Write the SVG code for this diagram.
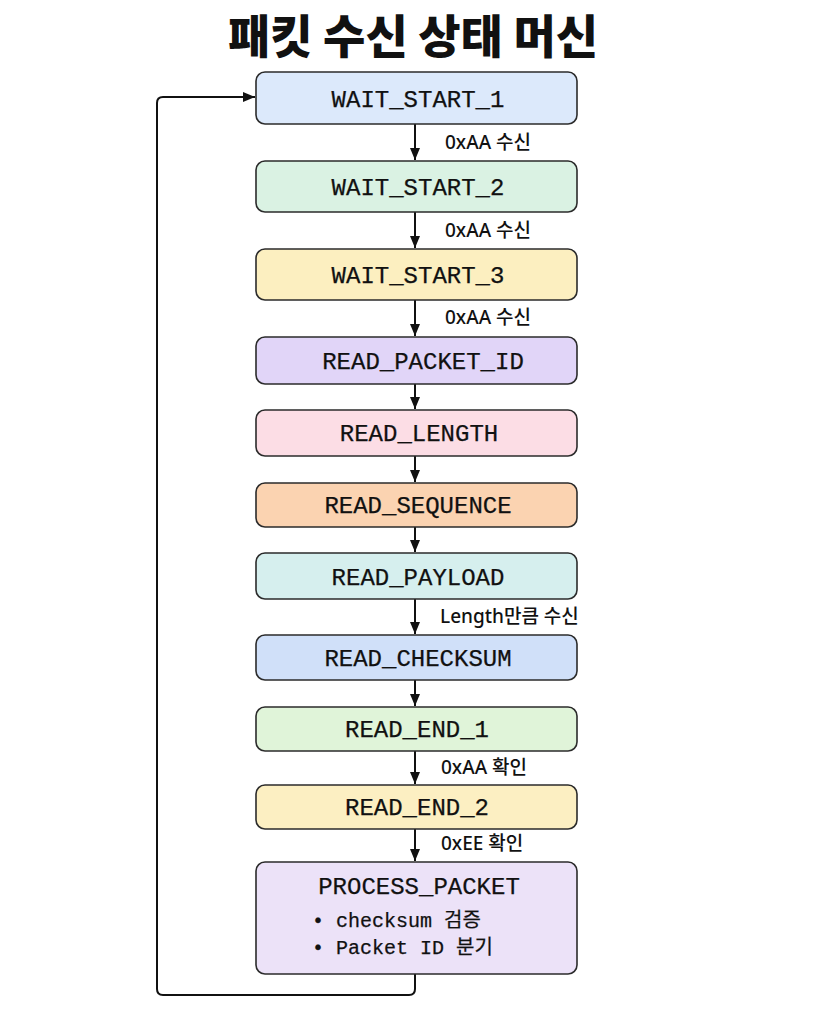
<svg xmlns="http://www.w3.org/2000/svg" width="819" height="1024" viewBox="0 0 819 1024">
<style>
.box{stroke:#2b2b2b;stroke-width:1.6}
.nt{font-family:"Liberation Mono","Noto Sans CJK KR",monospace;font-size:24px;fill:#111;text-anchor:middle;stroke:#111;stroke-width:0.25}
.st{font-family:"Liberation Mono","Noto Sans CJK KR",monospace;font-size:20px;fill:#111;stroke:#111;stroke-width:0.25}
.lb{font-family:"Noto Sans","Noto Sans CJK KR",sans-serif;font-size:19px;font-weight:500;fill:#111}
.ln{stroke:#111;stroke-width:2;fill:none}
.title{font-family:"Noto Sans CJK KR",sans-serif;font-weight:900;font-size:46px;fill:#111;text-anchor:middle}
</style>
<defs>
<marker id="ah" markerWidth="12" markerHeight="10" refX="12" refY="5" orient="auto" markerUnits="userSpaceOnUse">
<path d="M0,0 L12,5 L0,10 z" fill="#111"/>
</marker>
</defs>
<rect width="819" height="1024" fill="#ffffff"/>
<text class="title" x="413" y="53">패킷 수신 상태 머신</text>

<g id="connectors">
<line class="ln" x1="415" y1="124" x2="415" y2="160" marker-end="url(#ah)"/>
<line class="ln" x1="415" y1="212" x2="415" y2="248" marker-end="url(#ah)"/>
<line class="ln" x1="415" y1="300" x2="415" y2="336" marker-end="url(#ah)"/>
<line class="ln" x1="415" y1="384" x2="415" y2="409" marker-end="url(#ah)"/>
<line class="ln" x1="415" y1="456" x2="415" y2="482" marker-end="url(#ah)"/>
<line class="ln" x1="415" y1="527" x2="415" y2="552" marker-end="url(#ah)"/>
<line class="ln" x1="415" y1="599" x2="415" y2="634" marker-end="url(#ah)"/>
<line class="ln" x1="415" y1="680" x2="415" y2="706" marker-end="url(#ah)"/>
<line class="ln" x1="415" y1="751" x2="415" y2="784" marker-end="url(#ah)"/>
<line class="ln" x1="415" y1="829" x2="415" y2="861" marker-end="url(#ah)"/>
<path class="ln" d="M415,974 V989 Q415,995 409,995 H163 Q157,995 157,989 V103 Q157,97 163,97 H255" marker-end="url(#ah)"/>
<text class="lb" x="445" y="149">0xAA 수신</text>
<text class="lb" x="445" y="237">0xAA 수신</text>
<text class="lb" x="445" y="324">0xAA 수신</text>
<text class="lb" x="440" y="623">Length만큼 수신</text>
<text class="lb" x="441" y="774">0xAA 확인</text>
<text class="lb" x="441" y="850">0xEE 확인</text>
</g>

<g id="wait_start_1"><rect class="box" x="256" y="72" width="321" height="52" rx="9" fill="#dce9fb"/><text class="nt" x="418" y="107">WAIT_START_1</text></g>
<g id="wait_start_2"><rect class="box" x="256" y="161" width="321" height="51" rx="9" fill="#daf2e3"/><text class="nt" x="418" y="195">WAIT_START_2</text></g>
<g id="wait_start_3"><rect class="box" x="256" y="249" width="321" height="51" rx="9" fill="#fcefc0"/><text class="nt" x="418" y="283">WAIT_START_3</text></g>
<g id="read_packet_id"><rect class="box" x="256" y="337" width="321" height="47" rx="9" fill="#e1d5f8"/><text class="nt" x="423" y="369">READ_PACKET_ID</text></g>
<g id="read_length"><rect class="box" x="256" y="410" width="321" height="46" rx="9" fill="#fcdde5"/><text class="nt" x="419" y="441">READ_LENGTH</text></g>
<g id="read_sequence"><rect class="box" x="256" y="483" width="321" height="44" rx="9" fill="#fbd3b1"/><text class="nt" x="418" y="513">READ_SEQUENCE</text></g>
<g id="read_payload"><rect class="box" x="256" y="553" width="321" height="46" rx="9" fill="#d6efee"/><text class="nt" x="418" y="585">READ_PAYLOAD</text></g>
<g id="read_checksum"><rect class="box" x="256" y="635" width="321" height="45" rx="9" fill="#d0e0f9"/><text class="nt" x="418" y="666">READ_CHECKSUM</text></g>
<g id="read_end_1"><rect class="box" x="256" y="707" width="321" height="44" rx="9" fill="#e0f4d9"/><text class="nt" x="417" y="737">READ_END_1</text></g>
<g id="read_end_2"><rect class="box" x="256" y="785" width="321" height="44" rx="9" fill="#fcefc2"/><text class="nt" x="417" y="815">READ_END_2</text></g>
<g id="process_packet"><rect class="box" x="256" y="862" width="321" height="112" rx="9" fill="#ece2f8"/>
<text class="nt" x="419" y="894">PROCESS_PACKET</text>
<text class="st" x="312" y="927">• checksum 검증</text>
<text class="st" x="312" y="954">• Packet ID 분기</text>
</g>
</svg>
